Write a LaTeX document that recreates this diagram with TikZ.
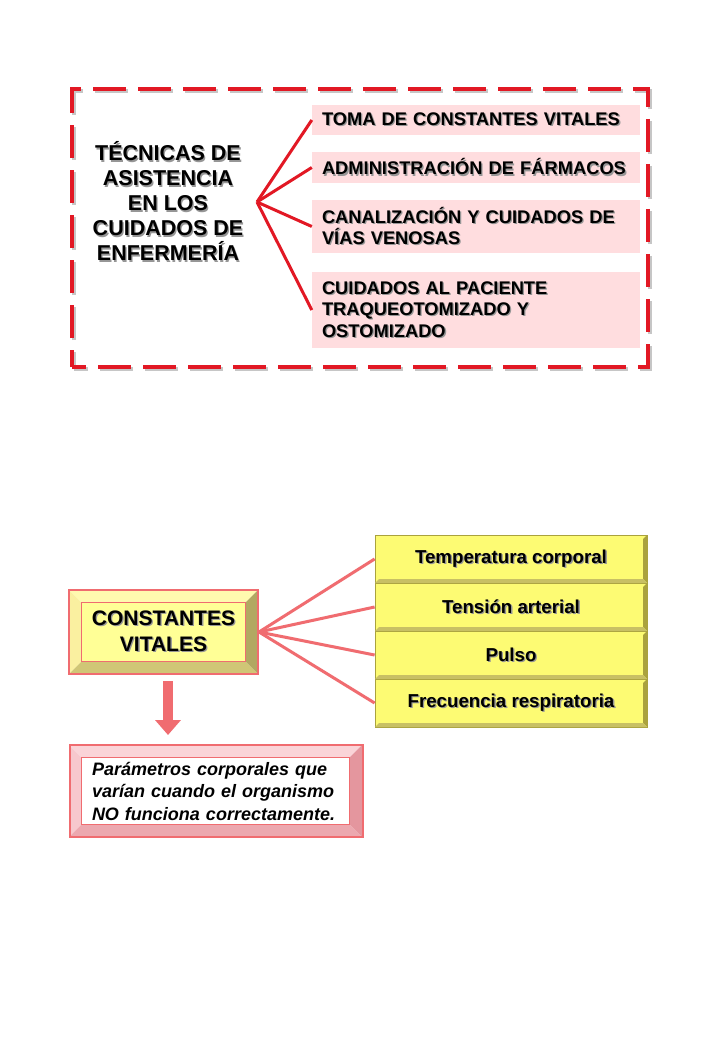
\documentclass[tikz,border=0pt]{standalone}
\usepackage{fontspec}
\setmainfont{Liberation Sans}
\usetikzlibrary{arrows.meta}
\definecolor{dred}{RGB}{226,24,36}
\definecolor{pinkfill}{RGB}{255,221,223}
\definecolor{salmon}{RGB}{240,108,112}
\definecolor{yel}{RGB}{253,251,115}
\definecolor{yeldark}{RGB}{170,162,62}
\definecolor{yelmid}{RGB}{200,192,100}
\definecolor{cvfill}{RGB}{255,255,150}
\definecolor{cvtop}{RGB}{255,250,175}
\definecolor{cvleft}{RGB}{250,240,160}
\definecolor{cvright}{RGB}{178,168,98}
\definecolor{cvbot}{RGB}{208,198,118}
\definecolor{pktop}{RGB}{250,212,216}
\definecolor{pkleft}{RGB}{247,200,205}
\definecolor{pkright}{RGB}{228,150,158}
\definecolor{pkbot}{RGB}{236,168,175}
\definecolor{txtshadow}{RGB}{150,150,150}
\newcommand{\sh}[1]{\makebox[0pt][l]{\kern1.3pt\raisebox{-1.3pt}{\textcolor{txtshadow}{#1}}}#1}
\newcommand{\bevelbox}[9]{%
\fill[#6] (#1,#2) -- (#3,#2) -- ({#3-#5},{#2+#5}) -- ({#1+#5},{#2+#5}) -- cycle;
\fill[#7] (#1,#2) -- ({#1+#5},{#2+#5}) -- ({#1+#5},{#4-#5}) -- (#1,#4) -- cycle;
\fill[#8] (#3,#2) -- (#3,#4) -- ({#3-#5},{#4-#5}) -- ({#3-#5},{#2+#5}) -- cycle;
\fill[#9] (#1,#4) -- (#3,#4) -- ({#3-#5},{#4-#5}) -- ({#1+#5},{#4-#5}) -- cycle;}
\tikzset{
  pinkbox/.style={rectangle, fill=pinkfill, minimum width=328pt, text width=308pt,
    inner xsep=10pt, inner ysep=0pt, align=left,
    font=\bfseries\fontsize{18.3}{21.5}\selectfont},
  redline/.style={dred, line width=3pt},
  salline/.style={salmon, line width=3pt},
  rowbox/.style={rectangle, fill=yel, draw=yeldark, line width=0.8pt,
    minimum width=272pt, minimum height=48pt, inner sep=0pt,
    font=\bfseries\fontsize{18.7}{22}\selectfont},
  dashframe/.style={line width=4.2pt, dash pattern=on 33pt off 12pt, dash phase=16pt},
}
\begin{document}
\begin{tikzpicture}[x=1pt,y=-1pt]
\useasboundingbox[fill=white] (0,0) rectangle (720,1040);

% dashed frame
\draw[gray!45, dashframe] (74,369) -- (74,91) -- (650,91) -- (650,369) -- cycle;
\draw[dred, dashframe] (72,367) -- (72,89) -- (648,89) -- (648,367) -- cycle;

\node[align=center, font=\bfseries\fontsize{21.5}{25}\selectfont] (tit) at (168,202)
  {\sh{TÉCNICAS DE}\\\sh{ASISTENCIA}\\\sh{EN LOS}\\\sh{CUIDADOS DE}\\\sh{ENFERMERÍA}};
\coordinate (hub) at (257,202);

\node[pinkbox, minimum height=30pt] (b1) at (476,120) {\sh{TOMA DE CONSTANTES VITALES}};
\node[pinkbox, minimum height=31pt] (b2) at (476,167.5) {\sh{ADMINISTRACIÓN DE FÁRMACOS}};
\node[pinkbox, minimum height=53pt] (b3) at (476,226.5) {\sh{CANALIZACIÓN Y CUIDADOS DE}\\\sh{VÍAS VENOSAS}};
\node[pinkbox, minimum height=76pt] (b4) at (476,310) {\sh{CUIDADOS AL PACIENTE}\\\sh{TRAQUEOTOMIZADO Y}\\\sh{OSTOMIZADO}};

\foreach \b in {b1,b2,b3,b4} \draw[redline] (hub) -- (\b.west);

% CONSTANTES VITALES box
\bevelbox{69}{590}{258}{674}{12.5}{cvtop}{cvleft}{cvright}{cvbot}
\draw[salmon, line width=1.5pt, fill=cvfill] (81.5,602.5) rectangle (245.5,661.5);
\node[draw=salmon, line width=2pt, minimum width=189pt, minimum height=84pt, inner sep=0pt,
  align=center, font=\bfseries\fontsize{21}{26}\selectfont] (cv) at (163.5,632)
  {\sh{CONSTANTES}\\\sh{VITALES}};

% rows
\node[rowbox] (r1) at (511,559) {\sh{Temperatura corporal}};
\node[rowbox] (r2) at (511,607) {\sh{Tensión arterial}};
\node[rowbox] (r3) at (511,655) {\sh{Pulso}};
\node[rowbox] (r4) at (511,703) {\sh{Frecuencia respiratoria}};
\foreach \y in {535,583,631,679}{
  \fill[yeldark] (647,\y) -- (647,{\y+48}) -- (643,{\y+44}) -- (643,{\y+4}) -- cycle;
  \fill[yelmid] (375,{\y+48}) -- (647,{\y+48}) -- (643,{\y+44}) -- (379,{\y+44}) -- cycle;
}
\foreach \r in {r1,r2,r3,r4} \draw[salline] (cv.east) -- (\r.west);

% text box
\bevelbox{69}{745}{362}{837}{12.5}{pktop}{pkleft}{pkright}{pkbot}
\draw[salmon, line width=1.2pt, fill=white] (81.5,757.5) rectangle (349.5,824.5);
\node[draw=salmon, line width=2pt, minimum width=293pt, minimum height=92pt, inner sep=0pt,
  text width=248pt, align=left, font=\bfseries\itshape\fontsize{18}{22.5}\selectfont] (tb) at (216,791)
  {Parámetros corporales que\\varían cuando el organismo\\NO funciona correctamente.};

% arrow
\coordinate (arrend) at (168,735);
\draw[salmon, line width=10pt, -{Triangle[width=25pt,length=15pt]}]
  ([shift={(4.5,6)}]cv.south) -- (arrend);
\end{tikzpicture}
\end{document}
